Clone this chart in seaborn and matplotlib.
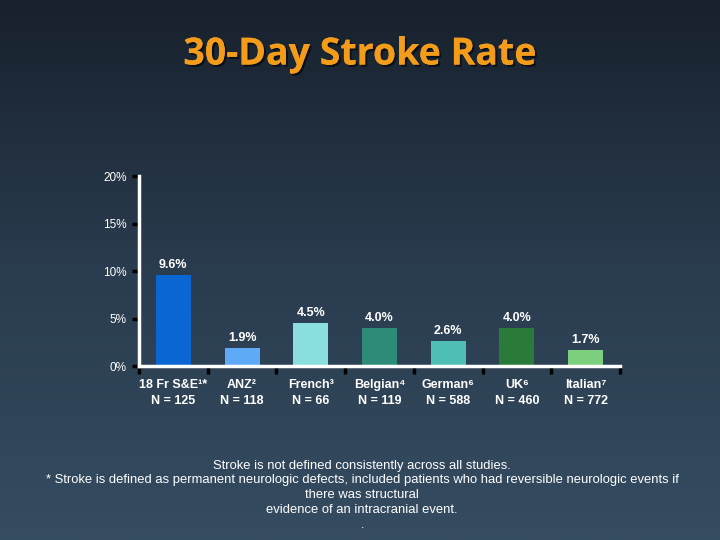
import numpy as np
import matplotlib
matplotlib.use("Agg")
import matplotlib.pyplot as plt
import matplotlib.patheffects as pe
from matplotlib.colors import LinearSegmentedColormap
import seaborn as sns

# data
studies = ["18 Fr S&E\u00b9*", "ANZ\u00b2", "French\u00b3", "Belgian\u2074",
           "German\u2076", "UK\u2076", "Italian\u2077"]
n_patients = [125, 118, 66, 119, 588, 460, 772]
stroke_rate = [9.6, 1.9, 4.5, 4.0, 2.6, 4.0, 1.7]
bar_colors = ["#0a66d2", "#5eaaf6", "#8adede", "#2e8b78", "#4fbfb5", "#2a7a3a", "#7ccf7c"]
y_ticks = [0, 5, 10, 15, 20]

footnote = ("Stroke is not defined consistently across all studies.\n"
            "* Stroke is defined as permanent neurologic defects, included patients who had reversible neurologic events if\n"
            "there was structural\n"
            "evidence of an intracranial event.\n"
            ".")

sns.set_style("white")
plt.rcParams["font.family"] = ["Liberation Sans", "DejaVu Sans"]

fig = plt.figure(figsize=(7.2, 5.4), dpi=100)

# background gradient
bg = fig.add_axes([0, 0, 1, 1], zorder=-1)
cmap = LinearSegmentedColormap.from_list("bg", ["#18212d", "#2a3c4f", "#354c61"])
bg.imshow(np.linspace(0, 1, 256).reshape(-1, 1), aspect="auto", cmap=cmap, extent=[0, 1, 0, 1])
bg.axis("off")

ax = fig.add_axes([0.193, 0.322, 0.668, 0.352])
ax.set_facecolor("none")

labels = [f"{s}\nN = {n}" for s, n in zip(studies, n_patients)]
sns.barplot(x=labels, y=stroke_rate, hue=labels, palette=bar_colors,
            width=0.51, legend=False, ax=ax, saturation=1, linewidth=0)

for c in ax.containers:
    ax.bar_label(c, fmt="%.1f%%", padding=3, color="white", fontsize=9, fontweight="bold")

ax.set_xlim(-0.5, 6.5)
ax.set_ylim(0, 20)
ax.set_yticks(y_ticks)
ax.set_yticklabels([f"{t}%" for t in y_ticks])
ax.set_xticks(range(len(labels)))
ax.set_xticklabels(labels, linespacing=1.45)
ax.set_xticks(np.arange(-0.5, 7, 1), minor=True)

ax.tick_params(axis="x", which="both", bottom=True)
ax.tick_params(axis="y", which="both", left=True)
ax.tick_params(axis="x", which="major", length=0, pad=9, colors="white", labelsize=9)
ax.tick_params(axis="x", which="minor", length=6, width=2.5, color="black", direction="out")
ax.tick_params(axis="y", length=5, width=2.5, color="black", labelcolor="white",
               labelsize=8.5, pad=4, direction="out")
for lab in ax.get_xticklabels():
    lab.set_fontweight("bold")

sns.despine(ax=ax)
for side in ["left", "bottom"]:
    ax.spines[side].set_color("white")
    ax.spines[side].set_linewidth(2.5)
ax.set_ylabel("")

fig.text(0.5, 0.899, "30-Day Stroke Rate", ha="center", va="center",
         fontsize=27, fontweight="bold", color="#f39c1a", family=["Open Sans", "DejaVu Sans"],
         path_effects=[pe.withSimplePatchShadow(offset=(1.5, -1.5), shadow_rgbFace="#0a0e14", alpha=0.9), pe.Normal()])

fig.text(0.503, 0.083, footnote, ha="center", va="center", color="white",
         fontsize=9.4, linespacing=1.3)

fig.savefig("out.png", dpi=100)
